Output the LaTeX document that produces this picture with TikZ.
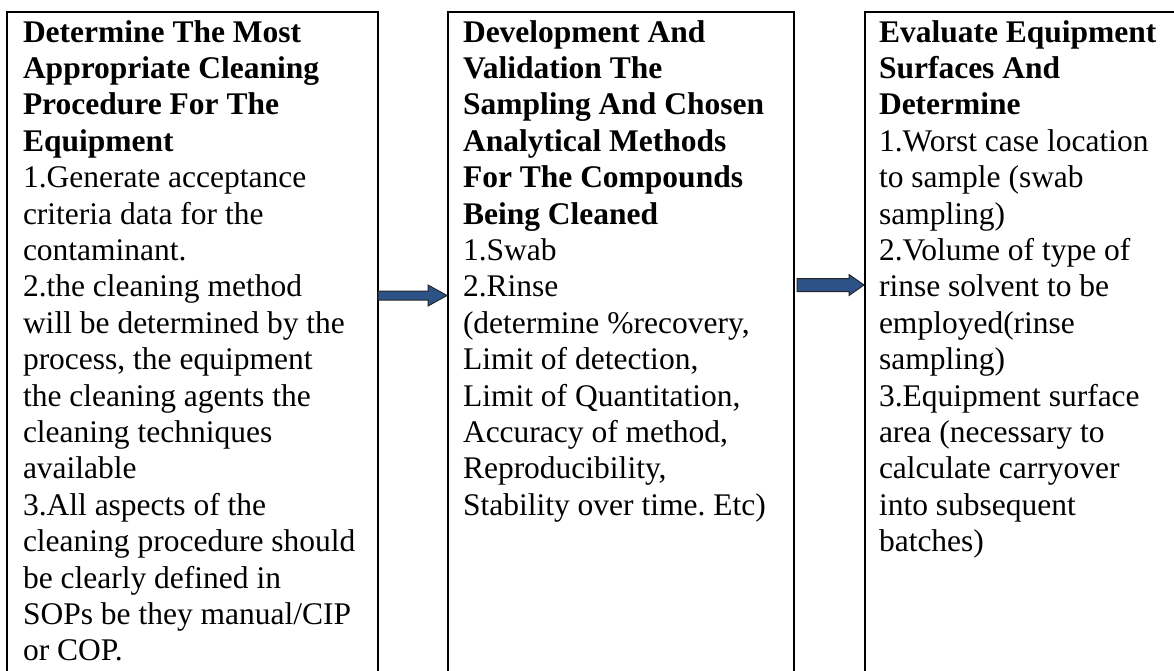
\documentclass[tikz,border=0pt]{standalone}
\usepackage{fontspec}
\setmainfont{Liberation Serif}
\usetikzlibrary{calc}
\definecolor{arrowfill}{RGB}{44,82,135}
\frenchspacing
\begin{document}
\begin{tikzpicture}[x=1pt,y=-1pt,
  boxstyle/.style={draw=black, line width=2.2pt, inner sep=0pt, outer sep=0pt, anchor=north west, minimum height=700pt},
  txt/.style={anchor=north west, inner sep=0pt, outer sep=0pt, align=left, font=\fontsize{31.5}{36.4}\selectfont\frenchspacing},
  blockarrow/.style={fill=arrowfill, draw=black!85, line width=1pt, line join=miter}]
\useasboundingbox (0,0) rectangle (1174,671);
\clip (0,0) rectangle (1174,671);
\node[boxstyle, minimum width=371pt] (b1) at (7,12) {};
\node[boxstyle, minimum width=346pt] (b2) at (448,12) {};
\node[boxstyle, minimum width=340pt] (b3) at (865,12) {};
\node[txt] (t1) at (23,17) {\rule{0pt}{25pt}\textbf{Determine The Most}\\
\textbf{Appropriate Cleaning}\\
\textbf{Procedure For The}\\
\textbf{Equipment}\\
1.Generate acceptance\\
criteria data for the\\
contaminant.\\
2.the cleaning method\\
will be determined by the\\
process, the equipment\\
the cleaning agents the\\
cleaning techniques\\
available\\
3.All aspects of the\\
cleaning procedure should\\
be clearly defined in\\
SOPs be they manual/CIP\\
or COP.};
\node[txt] (t2) at (463,17) {\rule{0pt}{25pt}\textbf{Development And}\\
\textbf{Validation The}\\
\textbf{Sampling And Chosen}\\
\textbf{Analytical Methods}\\
\textbf{For The Compounds}\\
\textbf{Being Cleaned}\\
1.Swab\\
2.Rinse\\
(determine \%recovery,\\
Limit of detection,\\
Limit of Quantitation,\\
Accuracy of method,\\
Reproducibility,\\
Stability over time. Etc)};
\node[txt] (t3) at (879,17) {\rule{0pt}{25pt}\textbf{Evaluate Equipment}\\
\textbf{Surfaces And}\\
\textbf{Determine}\\
1.Worst case location\\
to sample (swab\\
sampling)\\
2.Volume of type of\\
rinse solvent to be\\
employed(rinse\\
sampling)\\
3.Equipment surface\\
area (necessary to\\
calculate carryover\\
into subsequent\\
batches)};
\coordinate (y1) at (0,295.5);
\coordinate (y2) at (0,285);
\coordinate (a1s) at (b1.east |- y1);
\coordinate (a1e) at ($(b2.west |- y1)+(-1,0)$);
\coordinate (a2s) at ($(b2.east |- y2)+(3,0)$);
\coordinate (a2e) at ($(b3.west |- y2)+(-1,0)$);
\draw[blockarrow] ($(a1s)+(0,-4.5)$) -- ($(a1e)+(-19,-4.5)$) -- ($(a1e)+(-19,-10.5)$) -- (a1e)
  -- ($(a1e)+(-19,10.5)$) -- ($(a1e)+(-19,4.5)$) -- ($(a1s)+(0,4.5)$) -- cycle;
\draw[blockarrow] ($(a2s)+(0,-6.5)$) -- ($(a2e)+(-15,-6.5)$) -- ($(a2e)+(-15,-10.5)$) -- (a2e)
  -- ($(a2e)+(-15,10.5)$) -- ($(a2e)+(-15,6.5)$) -- ($(a2s)+(0,6.5)$) -- cycle;
\end{tikzpicture}
\end{document}
